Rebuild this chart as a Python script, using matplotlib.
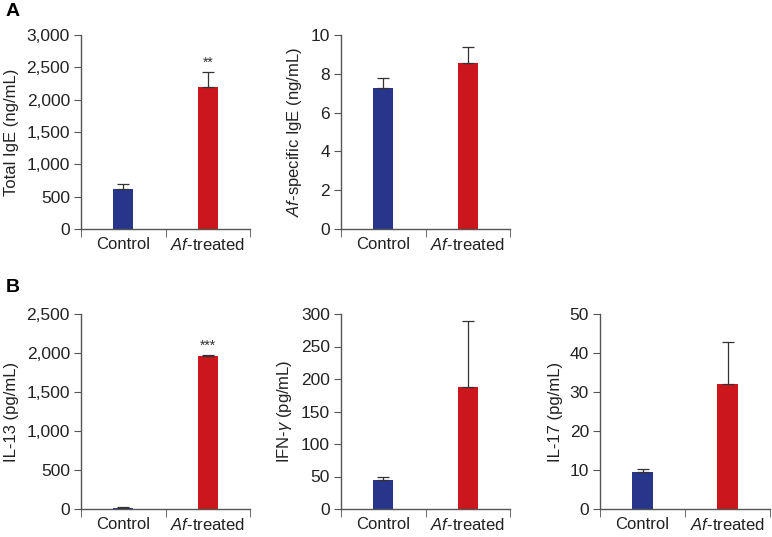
import numpy as np
import matplotlib.pyplot as plt
from matplotlib.ticker import FuncFormatter

plt.rcParams['font.family'] = ['Liberation Sans', 'DejaVu Sans']
plt.rcParams['mathtext.fontset'] = 'custom'
plt.rcParams['mathtext.rm'] = 'Liberation Sans'
plt.rcParams['mathtext.it'] = 'Liberation Sans:italic'

# datos
groups = ['Control', r'$\it{Af}$-treated']

total_ige = [620, 2190]
total_ige_err = [70, 240]

af_ige = [7.25, 8.55]
af_ige_err = [0.55, 0.85]

il13 = [15, 1960]
il13_err = [5, 15]

ifng = [45, 188]
ifng_err = [3.5, 102]

il17 = [9.5, 32]
il17_err = [0.8, 10.8]

# (valores, errores, etiqueta, ymax, paso, estrellas)
panels = [
    (total_ige, total_ige_err, 'Total IgE (ng/mL)', 3000, 500, '**'),
    (af_ige, af_ige_err, r'$\it{Af}$-specific IgE (ng/mL)', 10, 2, ''),
    (il13, il13_err, 'IL-13 (pg/mL)', 2500, 500, '***'),
    (ifng, ifng_err, r'IFN-$\it{γ}$ (pg/mL)', 300, 50, ''),
    (il17, il17_err, 'IL-17 (pg/mL)', 50, 10, ''),
]

# posiciones en pixeles (izq, abajo, ancho, alto)
W, H = 772, 537
boxes = [
    (81, 229, 169, 194),
    (341, 229, 169, 194),
    (81, 509, 169, 195),
    (341, 509, 169, 195),
    (600, 509, 170, 195),
]

colors = ['#27358a', '#cc161e']
axis_color = '#555555'
text_color = '#222222'

fig = plt.figure(figsize=(W / 100, H / 100), dpi=100)

for (vals, errs, ylabel, ymax, step, stars), (l, b, w, h) in zip(panels, boxes):
    ax = fig.add_axes([l / W, (H - b) / H, w / W, h / H])
    x = np.arange(len(vals))
    ax.bar(x, vals, width=0.24, color=colors)
    ax.errorbar(x, vals, yerr=[np.zeros(len(errs)), errs], fmt='none',
                ecolor='#333333', elinewidth=0.9, capsize=4, capthick=0.9)
    if stars:
        ax.text(1, vals[1] + errs[1] + ymax * 0.012, stars, ha='center',
                va='bottom', fontsize=10, color='#333333')

    ax.set_xlim(-0.5, 1.5)
    ax.set_ylim(0, ymax)
    ax.set_yticks(np.arange(0, ymax + step / 2, step))
    ax.yaxis.set_major_formatter(FuncFormatter(lambda v, p: f'{v:,.0f}'))
    ax.set_xticks(x)
    ax.set_xticklabels(groups)
    ax.set_xticks([-0.5, 0.5, 1.5], minor=True)
    ax.tick_params(axis='x', which='major', length=0, pad=6, labelsize=12,
                   labelcolor=text_color)
    ax.tick_params(axis='x', which='minor', length=6, color=axis_color,
                   direction='out')
    ax.tick_params(axis='y', length=5, color=axis_color, labelsize=12.5,
                   labelcolor=text_color, direction='out', pad=3)
    ax.set_ylabel(ylabel, fontsize=12, color=text_color, labelpad=5)

    for s in ['top', 'right']:
        ax.spines[s].set_visible(False)
    for s in ['left', 'bottom']:
        ax.spines[s].set_color(axis_color)
        ax.spines[s].set_linewidth(1.0)

fig.text(6 / W, 1 - 12 / H, 'A', fontsize=14, fontweight='bold', va='center')
fig.text(6 / W, 1 - 288 / H, 'B', fontsize=14, fontweight='bold', va='center')

fig.savefig('out.png', dpi=100)
